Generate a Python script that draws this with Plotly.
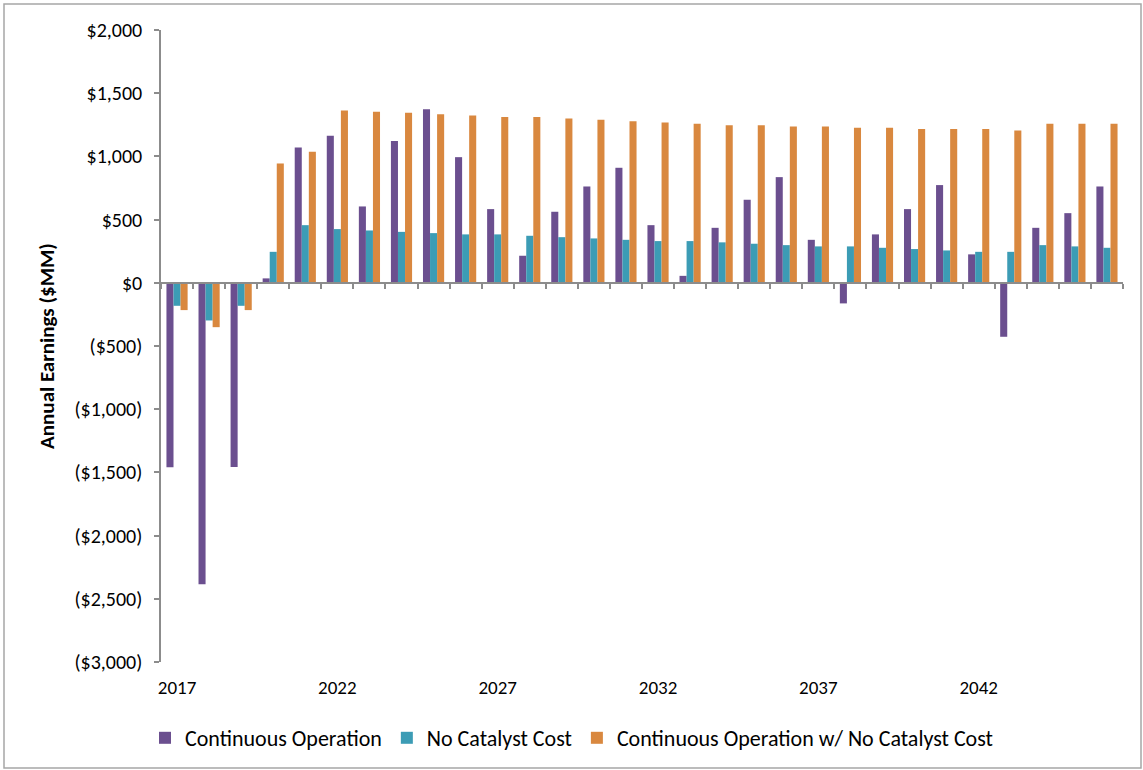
import plotly.graph_objects as go

years = list(range(2017, 2047))

continuous_operation = [-1460, -2384, -1458, 35, 1071, 1163, 604, 1121, 1374, 994,
                        583, 214, 562, 762, 910, 456, 55, 435, 657, 836,
                        340, -163, 383, 583, 773, 225, -427, 435, 551, 762]
no_catalyst_cost = [-182, -298, -182, 245, 456, 425, 414, 403, 393, 383,
                    383, 372, 361, 351, 340, 330, 330, 320, 309, 298,
                    288, 288, 277, 267, 256, 245, 245, 298, 288, 277]
continuous_no_catalyst = [-216, -351, -216, 944, 1036, 1364, 1353, 1345, 1334, 1324,
                          1311, 1311, 1300, 1289, 1279, 1269, 1258, 1247, 1247, 1237,
                          1237, 1226, 1226, 1216, 1216, 1216, 1205, 1258, 1258, 1258]

series_names = ["Continuous Operation", "No Catalyst Cost",
                "Continuous Operation w/ No Catalyst Cost"]
colors = ["#6B4F8F", "#3C9CB5", "#D9883F"]

y_tickvals = [2000, 1500, 1000, 500, 0, -500, -1000, -1500, -2000, -2500, -3000]
y_ticktext = ["$2,000", "$1,500", "$1,000", "$500", "$0", "($500)", "($1,000)",
              "($1,500)", "($2,000)", "($2,500)", "($3,000)"]
x_tickvals = years[::5][:6]

FONT = "Carlito, Lato, sans-serif"

fig = go.Figure()
for name, vals, col in zip(series_names,
                           [continuous_operation, no_catalyst_cost, continuous_no_catalyst],
                           colors):
    fig.add_trace(go.Bar(x=years, y=vals, name=name, marker_color=col,
                         marker_line_width=0))

# invisible helper trace for the zero-crossing category axis
fig.add_trace(go.Scatter(x=[years[0]], y=[None], xaxis="x2", showlegend=False,
                         hoverinfo="skip"))

W, H = 1143, 770
ml, mr, mt, mb = 161, 20, 30, 108
pw, ph = W - ml - mr, H - mt - mb
xr = [years[0] - 0.5, years[-1] + 0.5]

fig.update_layout(
    width=W, height=H,
    margin=dict(l=ml, r=mr, t=mt, b=mb, autoexpand=False),
    paper_bgcolor="white", plot_bgcolor="white",
    barmode="group", bargap=0.34, bargroupgap=0,
    font=dict(family=FONT, size=20, color="#000000"),
    xaxis=dict(range=xr, tickvals=x_tickvals, showline=False, ticks="",
               showgrid=False, zeroline=False, tickfont=dict(size=19),
               ticklabelstandoff=12),
    xaxis2=dict(range=xr, overlaying="x", anchor="free",
                position=(0 - y_tickvals[-1]) / (y_tickvals[0] - y_tickvals[-1]),
                side="bottom", showline=True, linecolor="#8C8C8C", linewidth=1.5,
                ticks="outside", ticklen=5, tickcolor="#8C8C8C", tickwidth=1.5,
                tickvals=[y - 0.5 for y in years] + [years[-1] + 0.5],
                showticklabels=False, showgrid=False, zeroline=False),
    yaxis=dict(range=[y_tickvals[-1], y_tickvals[0]], tickvals=y_tickvals,
               ticktext=y_ticktext, showline=True, linecolor="#8C8C8C", linewidth=1.5,
               ticks="outside", ticklen=5, tickcolor="#8C8C8C", tickwidth=1.5,
               showgrid=False, zeroline=False, tickfont=dict(size=20),
               ticklabelstandoff=8,
               title=dict(text="<b>Annual Earnings ($MM)</b>", font=dict(size=21),
                          standoff=14)),
    legend=dict(orientation="h", x=(W / 2 - ml) / pw, xanchor="center",
                y=-(738 - 662) / 632, yanchor="middle", font=dict(size=22),
                traceorder="normal", itemwidth=30, bgcolor="rgba(0,0,0,0)"),
    shapes=[dict(type="rect", xref="paper", yref="paper",
                 x0=(4 - ml) / pw, x1=(W - 2 - ml) / pw,
                 y0=-(mb - 2) / ph, y1=1 + (mt - 4) / ph,
                 line=dict(color="#A6A6A6", width=1.5), fillcolor="rgba(0,0,0,0)",
                 layer="below")],
)

fig.write_html("out.html")
